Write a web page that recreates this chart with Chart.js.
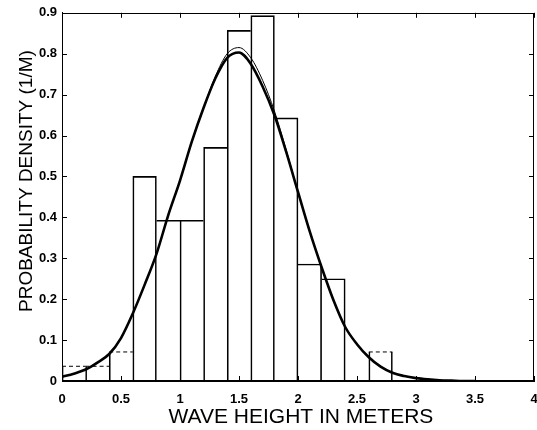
<!DOCTYPE html>
<html>
<head>
<meta charset="utf-8">
<script src="https://cdn.jsdelivr.net/npm/chart.js@4.4.1/dist/chart.umd.min.js"></script>
<style>
  html, body { margin: 0; padding: 0; background: #fff; }
</style>
</head>
<body>
<canvas id="chart" width="537" height="430"></canvas>
<script>
// histogram bins (0.2 m wide), density in 1/m
const binStart   = [0, 0.2, 0.4, 0.6, 0.8, 1.0, 1.2, 1.4, 1.6, 1.8, 2.0, 2.2, 2.4, 2.6];
const binDensity = [0.036, 0.036, 0.071, 0.5, 0.393, 0.393, 0.571, 0.857, 0.893, 0.643, 0.286, 0.25, 0, 0.071];
const binDashed  = [true, true, true, false, false, false, false, false, false, false, false, false, false, true];
const binWidth = 0.2;

// fitted curves
const curveX   = [0, 0.1, 0.2, 0.3, 0.4, 0.5, 0.6, 0.7, 0.8, 0.9, 1.0, 1.1, 1.2, 1.3, 1.4, 1.5, 1.6, 1.7,
                  1.8, 1.9, 2.0, 2.1, 2.2, 2.3, 2.4, 2.5, 2.6, 2.7, 2.8, 2.9, 3.0, 3.1, 3.2, 3.3, 3.4, 3.5];
const fitThick = [0.01, 0.018, 0.028, 0.045, 0.066, 0.105, 0.165, 0.235, 0.31, 0.405, 0.49, 0.585, 0.668, 0.74, 0.79, 0.803, 0.775, 0.72,
                  0.65, 0.56, 0.462, 0.365, 0.278, 0.198, 0.132, 0.09, 0.058, 0.035, 0.02, 0.012, 0.007, 0.004, 0.002, 0.001, 0, 0];
const fitThin  = [0.01, 0.018, 0.028, 0.045, 0.066, 0.105, 0.165, 0.235, 0.31, 0.405, 0.49, 0.585, 0.668, 0.745, 0.8, 0.815, 0.79, 0.735,
                  0.66, 0.565, 0.462, 0.365, 0.278, 0.198, 0.132, 0.09, 0.058, 0.035, 0.02, 0.012, 0.007, 0.004, 0.002, 0.001, 0, 0];

const xTicks = [0, 0.5, 1, 1.5, 2, 2.5, 3, 3.5, 4];
const yTicks = [0, 0.1, 0.2, 0.3, 0.4, 0.5, 0.6, 0.7, 0.8, 0.9];

const FONT = "'Liberation Sans', Arial, Helvetica, sans-serif";

// dashed tops for the sparse bins
function dashedTops() {
  const pts = [];
  binStart.forEach((s, i) => {
    if (!binDashed[i]) return;
    pts.push({x: s, y: binDensity[i]}, {x: s + binWidth, y: binDensity[i]}, {x: s + binWidth, y: null});
  });
  return pts;
}

// only the taller of two neighbours draws the shared edge, so lines stay single
function barBorder(c) {
  const i = c.dataIndex;
  const cur = binDensity[i];
  const prev = i > 0 ? binDensity[i - 1] : -1;
  const next = i < binDensity.length - 1 ? binDensity[i + 1] : -1;
  return {
    left: prev <= cur ? 1 : 0,
    right: next < cur ? 1 : 0,
    top: binDashed[i] ? 0 : 1,
    bottom: 0
  };
}

// box round the plot with ticks pointing inwards
const frameTicks = {
  id: 'frameTicks',
  afterDatasetsDraw(chart) {
    const {ctx, chartArea: a, scales: {x, y}} = chart;
    const len = 5;
    ctx.save();
    ctx.strokeStyle = '#000';
    ctx.lineWidth = 1;
    ctx.strokeRect(Math.round(a.left) + 0.5, Math.round(a.top) + 0.5,
                   Math.round(a.right - a.left) - 1, Math.round(a.bottom - a.top) - 1);
    ctx.beginPath();
    xTicks.forEach(v => {
      const px = Math.round(x.getPixelForValue(v)) + 0.5;
      ctx.moveTo(px, a.bottom); ctx.lineTo(px, a.bottom - len);
      ctx.moveTo(px, a.top); ctx.lineTo(px, a.top + len);
    });
    yTicks.forEach(v => {
      const py = Math.round(y.getPixelForValue(v)) + 0.5;
      ctx.moveTo(a.left, py); ctx.lineTo(a.left + len, py);
      ctx.moveTo(a.right, py); ctx.lineTo(a.right - len, py);
    });
    ctx.stroke();
    ctx.restore();
  }
};

new Chart(document.getElementById('chart'), {
  type: 'bar',
  data: {
    datasets: [
      {
        type: 'line', order: 0,
        data: curveX.map((v, i) => ({x: v, y: fitThick[i]})),
        borderColor: '#000', borderWidth: 2.6, pointRadius: 0, cubicInterpolationMode: 'monotone', fill: false
      },
      {
        type: 'line', order: 1,
        data: curveX.map((v, i) => ({x: v, y: fitThin[i]})),
        borderColor: '#000', borderWidth: 1, pointRadius: 0, cubicInterpolationMode: 'monotone', fill: false
      },
      {
        type: 'line', order: 2,
        data: dashedTops(),
        borderColor: '#000', borderWidth: 1, borderDash: [4, 3], pointRadius: 0, spanGaps: false, fill: false
      },
      {
        type: 'bar', order: 3,
        data: binStart.map((s, i) => ({x: s + binWidth / 2, y: binDensity[i]})),
        backgroundColor: 'rgba(0,0,0,0)',
        borderColor: '#000',
        borderWidth: barBorder,
        borderSkipped: false,
        barPercentage: 1, categoryPercentage: 1
      }
    ]
  },
  options: {
    responsive: false,
    animation: false,
    devicePixelRatio: 1,
    layout: { padding: {left: 15, top: 7, right: 0, bottom: 0} },
    plugins: { legend: {display: false}, tooltip: {enabled: false} },
    scales: {
      x: {
        type: 'linear', min: 0, max: 4, offset: false,
        grid: {display: false, offset: false, drawTicks: false},
        border: {display: true, color: '#000'},
        afterBuildTicks: s => { s.ticks = xTicks.map(v => ({value: v})); },
        afterFit: s => { s.height = 49; s.paddingLeft = 3; s.paddingRight = 3; },
        ticks: {color: '#000', padding: 11, maxRotation: 0, autoSkip: false,
                callback: v => String(v), font: {family: FONT, size: 13, weight: 'bold'}},
        title: {display: true, text: ' WAVE HEIGHT IN METERS', color: '#000', padding: 0, font: {family: FONT, size: 21}}
      },
      y: {
        type: 'linear', min: 0, max: 0.9,
        grid: {display: false, drawTicks: false},
        border: {display: true, color: '#000'},
        afterBuildTicks: s => { s.ticks = yTicks.map(v => ({value: v})); },
        afterFit: s => { s.width = 47; },
        ticks: {color: '#000', padding: 5, autoSkip: false,
                callback: v => String(v), font: {family: FONT, size: 13, weight: 'bold'}},
        title: {display: true, text: '      PROBABILITY DENSITY (1/M)', color: '#000', padding: 0, font: {family: FONT, size: 19}}
      }
    }
  },
  plugins: [frameTicks]
});
</script>
</body>
</html>
